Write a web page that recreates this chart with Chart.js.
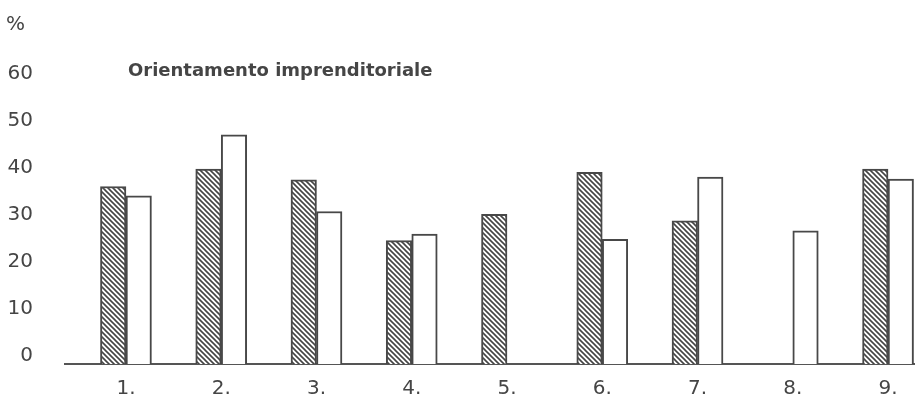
<!DOCTYPE html>
<html>
<head>
<meta charset="utf-8">
<script src="https://cdn.jsdelivr.net/npm/chart.js@4.4.1/dist/chart.umd.min.js"></script>
<style>
  html, body { margin: 0; padding: 0; background: #fff; overflow: hidden; }
  canvas { display: block; }
</style>
</head>
<body>
<canvas id="chart" width="915" height="401"></canvas>
<script>
// categories and values (%)
const xLabels = ["1.", "2.", "3.", "4.", "5.", "6.", "7.", "8.", "9."];
const hatchedValues = [37.7, 41.4, 39.1, 26.2, 31.8, 40.7, 30.4, null, 41.4];
const whiteValues = [35.7, 48.7, 32.4, 27.6, null, 26.5, 39.7, 28.3, 39.3];
const unitLabel = "%";
const panelTitle = "Orientamento imprenditoriale";

const INK = "#454545";
const FONT = "'DejaVu Sans', 'Liberation Sans', Arial, sans-serif";

// diagonal hatch, lines running down to the right
function makeHatch() {
  const s = 5;
  const c = document.createElement("canvas");
  c.width = s; c.height = s;
  const g = c.getContext("2d");
  g.fillStyle = "#fff";
  g.fillRect(0, 0, s, s);
  g.strokeStyle = "#444";
  g.lineWidth = 1.6;
  g.beginPath();
  g.moveTo(-1, -1); g.lineTo(s + 1, s + 1);
  g.moveTo(-1, s - 1); g.lineTo(1, s + 1);
  g.moveTo(s - 1, -1); g.lineTo(s + 1, 1);
  g.stroke();
  return document.getElementById("chart").getContext("2d").createPattern(c, "repeat");
}

const toPoints = (vals) => vals.map((v, i) => ({ x: i + 1, y: v }));

// panel caption, placed next to the 60 tick
const captionPlugin = {
  id: "caption",
  afterDraw(chart) {
    const { ctx, chartArea, scales } = chart;
    ctx.save();
    ctx.fillStyle = INK;
    ctx.font = `bold 18px ${FONT}`;
    ctx.textAlign = "left";
    ctx.textBaseline = "middle";
    ctx.fillText(panelTitle, chartArea.left + 63, scales.y.getPixelForValue(60) - 10);
    ctx.restore();
  }
};

const hatch = makeHatch();

new Chart(document.getElementById("chart"), {
  type: "bar",
  data: {
    datasets: [
      { label: "A", data: toPoints(hatchedValues), backgroundColor: hatch,
        borderColor: "#484848", borderWidth: 2 },
      { label: "B", data: toPoints(whiteValues), backgroundColor: "#fff",
        borderColor: "#484848", borderWidth: 2 }
    ]
  },
  options: {
    responsive: false,
    animation: false,
    events: [],
    layout: { padding: { left: 6, right: 0, top: 0, bottom: 0 } },
    datasets: { bar: { barThickness: 25.5 } },
    plugins: {
      legend: { display: false },
      tooltip: { enabled: false },
      title: {
        display: true, text: unitLabel, align: "start", color: INK,
        font: { family: FONT, size: 20, weight: "normal" },
        padding: { top: 13, bottom: 21 }
      }
    },
    scales: {
      x: {
        type: "linear",
        offset: false,
        min: 0.36, max: 9.283,
        grid: { display: false, drawTicks: false, offset: false },
        border: { display: true, color: "#555", width: 2 },
        afterFit: (s) => { s.height = 37; },
        ticks: {
          stepSize: 1, includeBounds: false, padding: 13, color: INK,
          font: { family: FONT, size: 20 },
          callback: (v) => Number.isInteger(v) ? xLabels[v - 1] : ""
        }
      },
      y: {
        min: 0, max: 65,
        grid: { display: false, drawTicks: false },
        border: { display: false },
        afterFit: (s) => { s.width = 59; s.paddingTop = 0; s.paddingBottom = 0; },
        ticks: {
          stepSize: 10, includeBounds: false, padding: 32, labelOffset: -8,
          color: INK, font: { family: FONT, size: 20 }
        }
      }
    }
  },
  plugins: [captionPlugin]
});
</script>
</body>
</html>
